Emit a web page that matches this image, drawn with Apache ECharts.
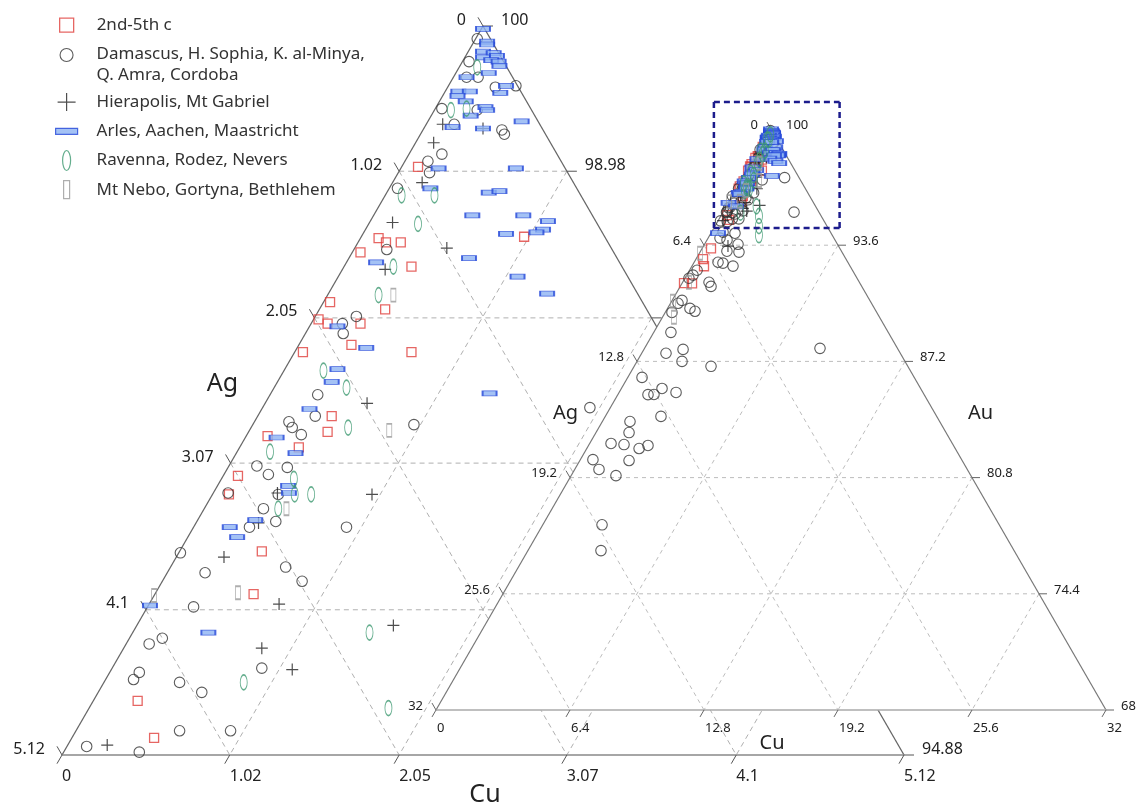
<!DOCTYPE html>
<html><head><meta charset="utf-8">
<script src="https://cdn.jsdelivr.net/npm/echarts/dist/echarts.min.js"></script>
<style>html,body{margin:0;padding:0;background:#fff}#c{width:1137px;height:809px}</style>
</head><body><div id="c"></div>
<script>
// ---------------- DATA: [Ag, Cu] in wt% (Au = 100 - Ag - Cu) ----------------
const NAMES = ['2nd-5th c', 'Damascus, H. Sophia, K. al-Minya,\nQ. Amra, Cordoba', 'Hierapolis, Mt Gabriel',
  'Arles, Aachen, Maastricht', 'Ravenna, Rodez, Nevers', 'Mt Nebo, Gortyna, Bethlehem'];

const squares2nd5th = [[0.89,0.10],[1.38,0.11],[1.35,0.17],[1.26,0.26],[1.54,0.05],[1.28,0.41],[1.90,0.04],[1.59,0.40],
  [2.03,0.03],[1.99,0.10],[1.79,0.30],[1.92,0.32],[1.58,0.71],[2.24,0.05],[2.29,0.45],[2.37,0.48],[2.75,0.13],[2.60,0.36],
  [3.07,0.09],[3.19,0.10],[3.19,0.50],[3.39,0.60],[4.47,0.27],[4.50,0.50],[0.49,0.99],
  [6.15,0.42],[6.83,0.34],[6.98,0.58],[8.40,0.09],[8.02,0.48]];

const circlesDamascus = [[0.08,0.01],[0.21,0.04],[0.28,0.08],[0.21,0.15],[0.14,0.29],[0.01,0.41],[0.54,0.04],[0.33,0.26],
  [0.52,0.17],[0.25,0.48],[0.25,0.51],[0.70,0.20],[0.81,0.14],[0.84,0.19],[1.09,0.05],[1.37,0.20],[1.79,0.25],[1.90,0.19],
  [1.93,0.23],[2.30,0.29],[2.39,0.35],[2.57,0.21],[2.57,0.25],[2.54,0.33],[1.82,0.98],[0.69,1.99],[2.92,0.17],[2.88,0.27],
  [2.74,0.36],[3.19,0.09],[2.89,0.40],[3.03,0.36],[3.00,0.48],[3.18,0.34],[2.59,0.93],[3.69,0.01],[3.61,0.23],[3.10,0.70],
  [3.05,0.85],[3.80,0.28],[4.20,0.14],[4.10,0.20],[4.36,0.18],[4.42,0.17],[4.15,0.46],[4.05,0.63],[3.60,0.91],[4.32,0.63],
  [4.01,0.94],[4.94,0.12],[4.64,0.46],
  [5.44,0.57],[5.16,0.96],[4.59,1.15],[4.92,1.86],[5.47,1.26],[6.20,1.14],[5.99,1.40],[5.59,1.96],[7.42,0.36],[7.75,0.30],
  [8.03,0.19],[7.18,1.26],[7.20,1.47],[8.97,0.47],[9.24,0.36],[8.81,1.07],[8.65,1.39],[9.78,0.32],[10.38,0.82],[11.19,1.16],
  [10.27,1.87],[10.65,2.15],[9.40,3.67],[3.70,8.38],[1.19,3.39],[13.00,0.68],[13.19,1.44],[12.90,1.72],[12.35,1.94],
  [11.79,2.72],[13.17,2.66],[14.79,1.32],[15.14,1.58],[16.30,1.02],[15.71,1.67],[15.10,2.50],[14.59,2.84],[17.61,0.60],
  [17.59,1.16],[15.91,2.35],[16.95,2.14],[18.97,2.83],[19.73,3.49],[5.13,0.55],[4.75,1.60]];

const plusHierapolis = [[0.59,0.10],[0.36,0.36],[0.71,0.11],[0.92,0.18],[1.24,0.14],[1.00,0.56],[1.45,0.26],[2.03,0.62],
  [2.89,0.39],[3.11,0.38],[3.44,0.29],[2.32,0.97],[3.27,0.79],[3.53,0.84],[3.42,1.10],[2.65,1.56],[4.81,0.24],[5.28,1.17]];

const rectsArles = [[0.01,0.01],[0.03,0.08],[0.04,0.09],[0.09,0.09],[0.03,0.16],[0.11,0.11],[0.02,0.19],[0.07,0.17],
  [0.03,0.22],[0.04,0.24],[0.13,0.20],[0.28,0.08],[0.07,0.35],[0.38,0.08],[0.31,0.15],[0.40,0.09],[0.13,0.34],[0.37,0.16],
  [0.27,0.30],[0.27,0.32],[0.39,0.24],[0.10,0.57],[0.54,0.17],[0.36,0.36],[0.77,0.23],[0.30,0.70],[0.89,0.25],[0.55,0.62],
  [0.48,0.68],[0.73,0.60],[0.42,0.91],[0.29,1.08],[0.35,1.08],[0.40,1.05],[0.59,0.87],[0.90,0.73],[0.67,1.09],[0.55,1.33],
  [1.25,1.33],[1.48,0.18],[1.94,0.17],[1.84,0.42],[2.09,0.32],[2.17,0.33],[2.40,0.29],[2.70,0.19],[2.64,0.36],[2.80,0.43],
  [2.82,0.46],[3.12,0.35],[3.30,0.22],[3.29,0.30],[4.06,0.01],[3.80,0.46],[5.40,0.34]];

const ellipsesRavenna = [[0.18,0.11],[0.49,0.10],[0.39,0.19],[1.09,0.10],[0.89,0.30],[1.09,0.30],[1.39,0.30],[1.58,0.31],
  [2.18,0.24],[2.10,0.44],[2.23,0.59],[2.79,0.20],[2.74,0.44],[2.79,0.50],[2.69,0.60],[2.94,0.45],[2.82,1.44],[3.76,0.85],
  [2.97,1.82],[3.25,2.10],[3.50,2.35]];

const rectsNebo = [[1.49,0.40],[1.99,0.85],[2.89,0.50],[3.48,0.50],[4.00,0.00],[6.81,0.03],[9.43,0.06],[9.82,0.55],[8.14,0.30]];

// tick labels
const bigAgTicks = [0, 1.02, 2.05, 3.07, 4.1, 5.12];
const bigCuTicks = [0, 1.02, 2.05, 3.07, 4.1, 5.12];
const bigAuTicks = [100, 98.98, 97.95, 96.93, 95.9, 94.88];
const smallAgTicks = [0, 6.4, 12.8, 19.2, 25.6, 32];
const smallCuTicks = [0, 6.4, 12.8, 19.2, 25.6, 32];
const smallAuTicks = [100, 93.6, 87.2, 80.8, 74.4, 68];

// ---------------- LAYOUT ----------------
const BIG = {apex:[483,26], bl:[62,755], br:[904,755], range:5.12};
const SMALL = {apex:[771,129], bl:[436,710], br:[1106,710], range:32};
const FONT = "'Noto Sans', 'Open Sans', 'DejaVu Sans', sans-serif";

function tern(tri, ag, cu){
  const v = ag / tri.range, u = cu / tri.range, w = 1 - u - v;
  return [w*tri.apex[0] + v*tri.bl[0] + u*tri.br[0], w*tri.apex[1] + v*tri.bl[1] + u*tri.br[1]];
}
function unit(a, b){ const dx = a[0]-b[0], dy = a[1]-b[1], l = Math.hypot(dx, dy); return [dx/l, dy/l]; }

const DATA = [squares2nd5th, circlesDamascus, plusHierapolis, rectsArles, ellipsesRavenna, rectsNebo];
const T = 'rgba(0,0,0,0)';
const STY = [
  {symbol:'rect', size:9, itemStyle:{color:T, borderColor:'#e0403c', borderWidth:1.3}},
  {symbol:'circle', size:10.5, itemStyle:{color:T, borderColor:'#333', borderWidth:1.1}},
  {symbol:'path://M0,6L12,6M6,0L6,12', size:12, itemStyle:{color:T, borderColor:'#222', borderWidth:1.2}},
  {symbol:'rect', size:[14,5], itemStyle:{color:'#8db3f2', borderColor:'#2346d8', borderWidth:1.2}},
  {symbol:'path://M0,10A5,10,0,1,1,10,10A5,10,0,1,1,0,10Z', size:[7,15], itemStyle:{color:T, borderColor:'#3f9a72', borderWidth:1.2}},
  {symbol:'rect', size:[5,13], itemStyle:{color:T, borderColor:'#9a9a9a', borderWidth:1.2}}
];
const LEG_ICON = [
  'path://M0,0M50,20M18,3L32,3L32,17L18,17Z',
  'path://M0,0M50,33M18.5,6.5A6.5,6.5,0,1,1,31.5,6.5A6.5,6.5,0,1,1,18.5,6.5Z',
  'path://M0,0M50,20M16,10L34,10M25,1L25,19',
  'path://M0,0M50,20M14,7L36,7L36,13L14,13Z',
  'path://M0,0M50,20M21,10A4,10,0,1,1,29,10A4,10,0,1,1,21,10Z',
  'path://M0,0M50,20M22,1L28,1L28,19L22,19Z'
];

// ---------------- FRAMES ----------------
function buildFrame(tri, agT, auT, cuT, st){
  const R = tri.range, grid = [], frame = [];
  for (let i = 1; i < agT.length - 1; i++){
    const s = 100 - auT[i];
    grid.push({a: tern(tri, s, 0), b: tern(tri, 0, s), ...st.grid});
    grid.push({a: tern(tri, agT[i], 0), b: tern(tri, agT[i], R - agT[i]), ...st.grid});
    grid.push({a: tern(tri, 0, cuT[i]), b: tern(tri, R - cuT[i], cuT[i]), ...st.grid});
  }
  frame.push({a: tri.apex, b: tri.bl, ...st.left});
  frame.push({a: tri.apex, b: tri.br, ...st.right});
  frame.push({a: tri.bl, b: tri.br, ...st.bottom});
  const L = st.tickLen, dAg = unit(tri.apex, tri.br), dCu = unit(tri.bl, tri.apex);
  agT.forEach(v => { const p = tern(tri, v, 0); frame.push({a:p, b:[p[0]+dAg[0]*L, p[1]+dAg[1]*L], ...st.tick}); });
  auT.forEach(v => { const p = tern(tri, 0, 100 - v); frame.push({a:p, b:[p[0]+L, p[1]], ...st.tick}); });
  cuT.forEach(v => { const p = tern(tri, R - v, v); frame.push({a:p, b:[p[0]+dCu[0]*L, p[1]+dCu[1]*L], ...st.tick}); });
  return {grid, frame};
}
function buildTexts(tri, agT, auT, cuT, o){
  const out = [], R = tri.range;
  agT.forEach(v => out.push({p: tern(tri, v, 0), text: String(v), align:'right', dx:o.ag[0], dy:o.ag[1], font:o.font}));
  auT.forEach(v => out.push({p: tern(tri, 0, 100 - v), text: String(v), align:'left', dx:o.au[0], dy:o.au[1], font:o.font}));
  cuT.forEach(v => out.push({p: tern(tri, R - v, v), text: String(v), align:'left', dx:o.cu[0], dy:o.cu[1], font:o.font}));
  return out;
}
function mid(a, b){ return [(a[0]+b[0])/2, (a[1]+b[1])/2]; }

const bigF = buildFrame(BIG, bigAgTicks, bigAuTicks, bigCuTicks, {
  grid:{stroke:'#b0b0b0', w:1, dash:[5,4]}, left:{stroke:'#666', w:1.3}, right:{stroke:'#666', w:1.3},
  bottom:{stroke:'#888', w:1.3}, tick:{stroke:'#555', w:1}, tickLen:10});
const smallF = buildFrame(SMALL, smallAgTicks, smallAuTicks, smallCuTicks, {
  grid:{stroke:'#bdbdbd', w:1, dash:[4,4]}, left:{stroke:'#777', w:1.2}, right:{stroke:'#777', w:1.2},
  bottom:{stroke:'#aaa', w:1.3}, tick:{stroke:'#666', w:1}, tickLen:8});

const bigTexts = buildTexts(BIG, bigAgTicks, bigAuTicks, bigCuTicks,
  {font:'16px ' + FONT, ag:[-17,-6], au:[18,-6], cu:[0,21]});
bigTexts.push({p: mid(BIG.apex, BIG.bl), text:'Ag', align:'center', dx:-50, dy:-7, font:'25px ' + FONT});
bigTexts.push({p: mid(BIG.bl, BIG.br), text:'Cu', align:'center', dx:2, dy:40, font:'25px ' + FONT});
const smallTexts = buildTexts(SMALL, smallAgTicks, smallAuTicks, smallCuTicks,
  {font:'13px ' + FONT, ag:[-13,-4], au:[15,-4], cu:[1,18]});
smallTexts.push({p: mid(SMALL.apex, SMALL.bl), text:'Ag', align:'center', dx:-38, dy:-6, font:'20px ' + FONT});
smallTexts.push({p: mid(SMALL.apex, SMALL.br), text:'Au', align:'center', dx:42, dy:-6, font:'20px ' + FONT});
smallTexts.push({p: mid(SMALL.bl, SMALL.br), text:'Cu', align:'center', dx:1, dy:33, font:'20px ' + FONT});

// zoom box marking the large-triangle range inside the small triangle
const zBL = tern(SMALL, BIG.range, 0), zBR = tern(SMALL, 0, BIG.range);
const bx0 = zBL[0] - 3.5, bx1 = zBR[0] + 15, by0 = SMALL.apex[1] - 27, by1 = zBL[1] + 6;
const boxSty = {stroke:'#1c1c8c', w:2.5, dash:[6,4]};
const boxSegs = [
  {a:[bx0,by0], b:[bx1,by0], ...boxSty}, {a:[bx1,by0], b:[bx1,by1], ...boxSty},
  {a:[bx1,by1], b:[bx0,by1], ...boxSty}, {a:[bx0,by1], b:[bx0,by0], ...boxSty}];

// ---------------- SERIES ----------------
function segSeries(segs, z){
  return {type:'custom', z, silent:true, animation:false, clip:false,
    data: segs.map((s,i) => [s.a[0], s.a[1], s.b[0], s.b[1], i]),
    renderItem: (params, api) => {
      const s = segs[params.dataIndex];
      const p1 = api.coord([api.value(0), api.value(1)]), p2 = api.coord([api.value(2), api.value(3)]);
      return {type:'line', shape:{x1:p1[0], y1:p1[1], x2:p2[0], y2:p2[1]},
        style:{stroke:s.stroke, lineWidth:s.w, lineDash:s.dash || null, fill:null}};
    }};
}
function textSeries(texts, z){
  return {type:'custom', z, silent:true, animation:false, clip:false,
    data: texts.map((t,i) => [t.p[0], t.p[1], i]),
    renderItem: (params, api) => {
      const t = texts[params.dataIndex];
      const p = api.coord([api.value(0), api.value(1)]);
      return {type:'text', x:p[0] + t.dx, y:p[1] + t.dy,
        style:{text:t.text, font:t.font, fill:'#222', align:t.align, verticalAlign:'middle'}};
    }};
}
function pointSeries(k, tri, z, clip){
  const pts = DATA[k].filter(d => !clip || (d[0] + d[1] <= tri.range + 1e-9)).map(d => tern(tri, d[0], d[1]));
  return {type:'scatter', name:NAMES[k], data:pts, symbol:STY[k].symbol, symbolSize:STY[k].size,
    itemStyle:STY[k].itemStyle, z, silent:true, animation:false, emphasis:{disabled:true}};
}
const fillSeries = {type:'custom', z:4, silent:true, animation:false, clip:false, data:[[SMALL.apex[0], SMALL.apex[1]]],
  renderItem: (params, api) => ({type:'polygon',
    shape:{points:[api.coord(SMALL.apex), api.coord(SMALL.bl), api.coord(SMALL.br)]}, style:{fill:'#fff'}})};

const series = [segSeries(bigF.grid, 1), segSeries(bigF.frame, 2), textSeries(bigTexts, 2)];
for (let k = 0; k < 6; k++) series.push(pointSeries(k, BIG, 3, true));
series.push(fillSeries, segSeries(smallF.grid, 5), segSeries(smallF.frame, 6));
for (let k = 0; k < 6; k++) series.push(pointSeries(k, SMALL, 7, false));
series.push(textSeries(smallTexts, 8), segSeries(boxSegs, 9));

function legendItem(k){ return {name:NAMES[k], icon:LEG_ICON[k], itemStyle:STY[k].itemStyle}; }
const legBase = {orient:'vertical', left:41, padding:0, itemWidth:50, itemHeight:20, itemGap:8,
  selectedMode:false, symbolKeepAspect:false,
  textStyle:{fontSize:17, lineHeight:21, color:'#333', fontFamily:FONT}};

const chart = echarts.init(document.getElementById('c'), null, {renderer:'canvas'});
chart.setOption({
  animation:false,
  backgroundColor:'#fff',
  grid:{left:0, right:0, top:0, bottom:0},
  xAxis:{type:'value', min:0, max:1137, show:false},
  yAxis:{type:'value', min:0, max:809, inverse:true, show:false},
  legend:[
    Object.assign({}, legBase, {top:14.5, data:[legendItem(0)]}),
    Object.assign({}, legBase, {top:44, itemHeight:33, data:[legendItem(1)]}),
    Object.assign({}, legBase, {top:91.5, data:[2,3,4,5].map(legendItem)})
  ],
  series
});
</script>
</body></html>
